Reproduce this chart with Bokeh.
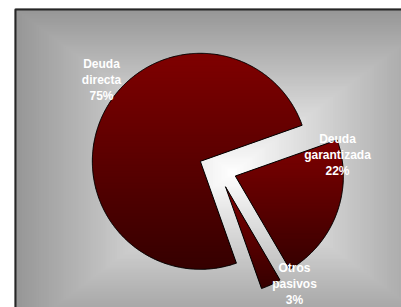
import numpy as np
from bokeh.plotting import figure
from bokeh.models import Range1d
from bokeh.core.properties import value
from bokeh.embed import file_html
from bokeh.resources import INLINE

# ---- data ----
categories = ["Deuda\ndirecta", "Deuda\ngarantizada", "Otros\npasivos"]
shares = [75, 22, 3]
pct_labels = ["75%", "22%", "3%"]

# ---- layout (pixel-like coordinates, y grows downward) ----
CX, CY, R = 217.0, 169.0, 108.0
EXPLODE = 19.0
FIRST_ANGLE = 160.5          # degrees clockwise from 12 o'clock
LABEL_X = [101, 337, 294]
LABEL_Y = [79, 154, 283]
LINE_STEP = 16
TOP_RGB = np.array([128, 0, 0])
BOT_RGB = np.array([54, 0, 0])

W, H = 401, 307
p = figure(width=W, height=H, output_backend="svg", toolbar_location=None,
           x_range=Range1d(0, W), y_range=Range1d(H, 0),
           min_border=0, min_border_left=0, min_border_right=0,
           min_border_top=0, min_border_bottom=0)
p.axis.visible = False
p.grid.visible = False
p.outline_line_color = None
p.background_fill_color = "white"
p.border_fill_color = "white"

# ---- background: rectangular "from center" gradient ----
BG_CX, BG_CY, BG_HW, BG_HH = 232.0, 172.0, 218.0, 164.0
steps = np.linspace(1.0, 0.0, 90)
lefts, rights, tops, bottoms, bcols = [], [], [], [], []
for t in steps:
    g = int(round(255 * (1 - t) + 150 * t))
    lefts.append(max(14.0, BG_CX - BG_HW * t))
    rights.append(BG_CX + BG_HW * t)
    tops.append(max(8.0, BG_CY - BG_HH * t))
    bottoms.append(BG_CY + BG_HH * t)
    bcols.append("#%02x%02x%02x" % (g, g, g))
p.quad(left=lefts, right=rights, top=tops, bottom=bottoms,
       fill_color=bcols, line_color=None)

# frame border
p.quad(left=[15], right=[460], top=[9], bottom=[360],
       fill_color=None, line_color="#262626", line_width=2)


def clip_half(poly, y, keep_above):
    out = []
    n = len(poly)
    for i in range(n):
        a = poly[i]
        b = poly[(i + 1) % n]
        ina = a[1] >= y if keep_above else a[1] <= y
        inb = b[1] >= y if keep_above else b[1] <= y
        if ina:
            out.append(a)
        if ina != inb:
            tt = (y - a[1]) / (b[1] - a[1])
            out.append((a[0] + tt * (b[0] - a[0]), y))
    return out


total = float(sum(shares))
a0 = FIRST_ANGLE
band_xs, band_ys, band_cols = [], [], []
out_xs, out_ys = [], []
for share in shares:
    a1 = a0 + share / total * 360.0
    th0 = np.radians(90 - a0)
    th1 = np.radians(90 - a1)
    thm = 0.5 * (th0 + th1)
    ax = CX + EXPLODE * np.cos(thm)
    ay = CY - EXPLODE * np.sin(thm)
    ths = np.linspace(th0, th1, max(8, int(abs(a1 - a0) * 2)))
    poly = [(ax, ay)] + [(ax + R * np.cos(t), ay - R * np.sin(t)) for t in ths]
    ys_all = [q[1] for q in poly]
    ymin, ymax = min(ys_all), max(ys_all)
    nb = int((ymax - ymin) / 1.5) + 1
    edges = np.linspace(ymin, ymax, nb + 1)
    for k in range(nb):
        y0, y1 = edges[k], edges[k + 1]
        piece = clip_half(poly, y0 - 0.4, True)
        piece = clip_half(piece, y1 + 0.4, False) if piece else piece
        if len(piece) < 3:
            continue
        tt = ((y0 + y1) / 2 - ymin) / (ymax - ymin)
        c = (TOP_RGB * (1 - tt) + BOT_RGB * tt).astype(int)
        band_xs.append([q[0] for q in piece])
        band_ys.append([q[1] for q in piece])
        band_cols.append("#%02x%02x%02x" % tuple(c))
    out_xs.append([q[0] for q in poly])
    out_ys.append([q[1] for q in poly])
    a0 = a1

p.patches(band_xs, band_ys, fill_color=band_cols, line_color=None)
p.patches(out_xs, out_ys, fill_color=None, line_color="black", line_width=1)

tx, ty, tt_ = [], [], []
for cat, pl, lx, ly in zip(categories, pct_labels, LABEL_X, LABEL_Y):
    lines = cat.split("\n") + [pl]
    n = len(lines)
    for i, ln in enumerate(lines):
        tx.append(lx)
        ty.append(ly + (i - (n - 1) / 2) * LINE_STEP)
        tt_.append(ln)
p.text(x=tx, y=ty, text=tt_, text_font=value("Liberation Sans"),
       text_font_style="bold", text_font_size="12px", text_color="white",
       text_align="center", text_baseline="middle")

open("out.html", "w").write(file_html(p, INLINE))
